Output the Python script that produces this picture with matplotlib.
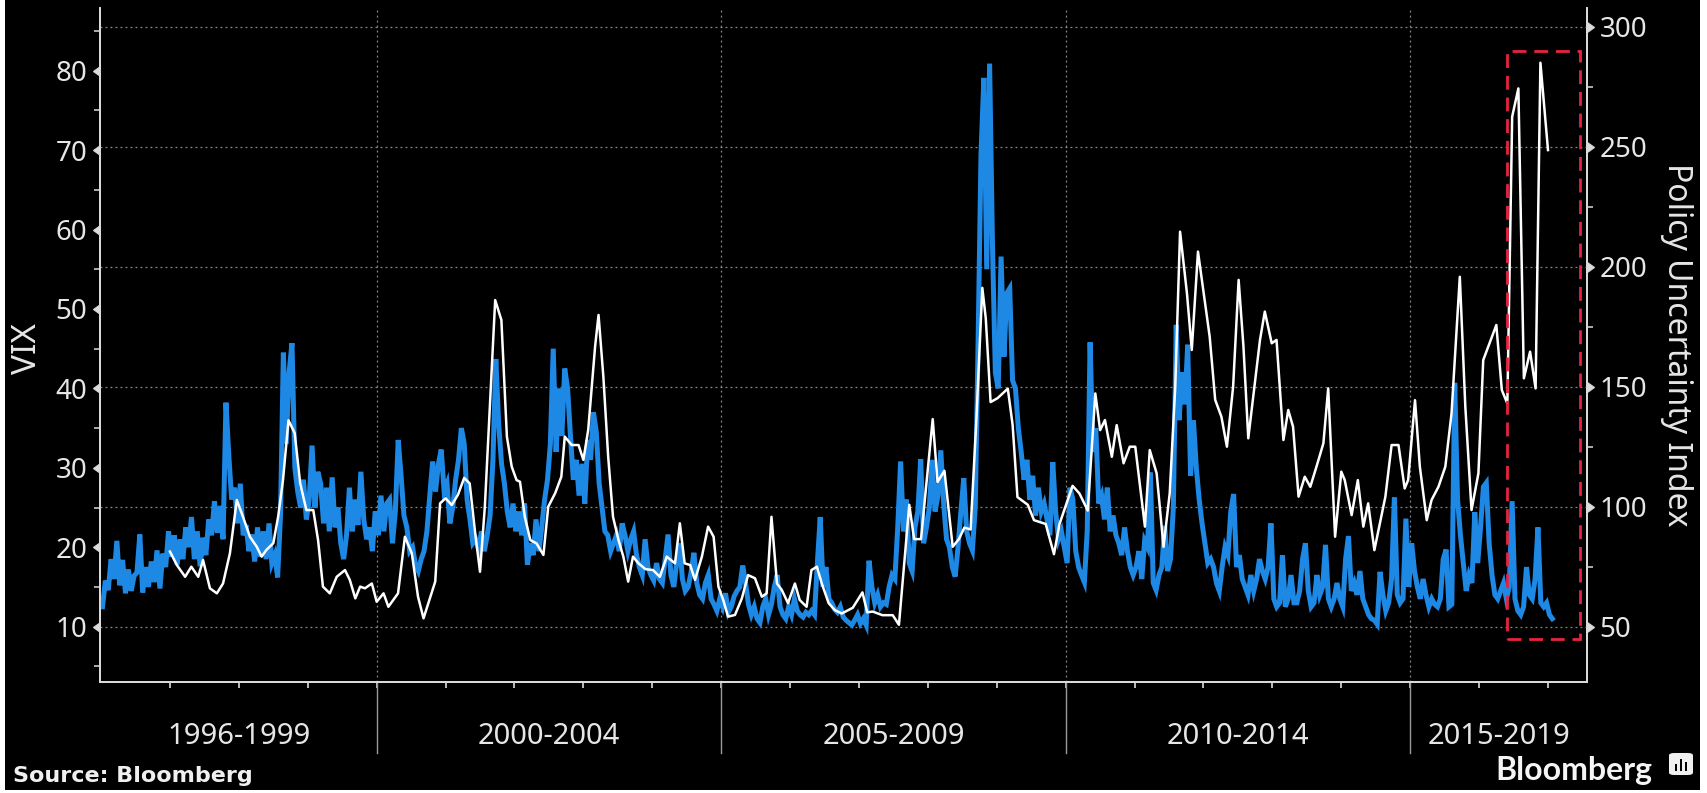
import numpy as np
import matplotlib.pyplot as plt
from matplotlib.patches import Rectangle, FancyBboxPatch

# VIX, two readings per month (first half, second half), by period
vix_1996_1999 = [
    12.5, 15.8, 14.6, 18.5, 16.0, 20.8, 15.2, 18.4, 14.2, 17.2, 14.5, 16.4,
    16.8, 21.6, 14.3, 17.5, 15.0, 18.2, 15.6, 19.6, 14.8, 19.2, 17.5, 22.0,
    18.8, 21.5, 17.8, 21.0, 18.5, 22.5, 20.0, 23.8, 18.5, 22.0, 17.6, 21.2,
    19.0, 23.5, 21.5, 25.8, 21.8, 25.2, 21.0, 38.2, 31.5, 26.0, 27.5, 23.0,
    28.0, 21.5, 22.8, 19.5, 21.6, 18.2, 22.5, 18.8, 22.0, 18.5, 23.0, 18.0,
    19.0, 16.2, 24.0, 44.5, 33.0, 42.0, 45.7, 30.0, 27.0, 25.0, 28.5, 23.5,
    26.0, 32.8, 25.0, 29.5, 28.0, 23.0, 27.5, 22.0, 28.8, 22.5, 25.0, 20.5,
    18.5, 21.5, 27.5, 22.0, 26.0, 22.8, 29.5, 23.5, 21.0, 22.5, 19.5, 24.5,
]
vix_2000_2004 = [
    21.5, 26.5, 22.0, 25.5, 26.0, 20.5, 24.5, 33.5, 29.0, 24.0, 22.5, 19.5,
    20.0, 17.8, 17.0, 18.5, 19.5, 22.0, 26.5, 30.8, 27.0, 30.5, 32.3, 27.0,
    28.0, 23.0, 25.0, 28.5, 31.0, 35.0, 33.0, 26.0, 23.5, 20.5, 21.0, 19.8,
    22.0, 19.5, 21.5, 24.0, 31.0, 43.7, 35.5, 30.5, 28.0, 24.5, 22.5, 25.5,
    22.0, 24.5, 21.5, 25.5, 17.8, 20.5, 19.0, 23.5, 19.5, 22.5, 26.0, 28.5,
    33.0, 45.0, 32.0, 40.0, 34.0, 42.5, 40.0, 34.0, 28.5, 31.0, 26.5, 30.5,
    25.5, 33.5, 31.0, 37.0, 34.5, 28.0, 25.0, 22.0, 21.5, 19.5, 20.5, 21.5,
    19.5, 23.0, 21.5, 19.5, 21.0, 22.0, 19.0, 17.5, 16.5, 21.0, 17.5, 16.5,
    15.8, 18.0, 16.0, 15.5, 18.5, 21.6, 16.5, 15.0, 18.0, 20.5, 16.0, 14.5,
    15.0, 16.8, 19.3, 15.5, 14.0, 13.5, 15.5, 16.5, 13.5, 12.8, 12.0, 13.5,
]
vix_2005_2009 = [
    12.5, 14.2, 11.8, 12.5, 13.8, 14.5, 15.0, 17.7, 15.5, 12.8, 11.5, 12.5,
    11.0, 10.5, 12.5, 13.5, 11.5, 12.8, 15.0, 16.5, 12.5, 11.5, 11.0, 12.5,
    11.5, 13.5, 12.0, 11.5, 11.2, 11.8, 11.5, 12.0, 11.5, 18.0, 23.8, 15.0,
    17.5, 13.5, 13.0, 12.2, 11.8, 12.5, 11.2, 10.8, 10.5, 10.2, 10.8, 11.5,
    10.4, 11.0, 10.2, 18.3, 15.0, 13.0, 14.0, 12.5, 13.0, 12.8, 15.0, 16.5,
    16.0, 22.5, 30.8, 22.0, 26.0, 18.0, 17.0, 22.5, 24.5, 31.1, 20.5, 22.5,
    25.0, 31.0, 24.5, 26.5, 32.2, 25.5, 21.0, 20.0, 17.5, 16.3, 20.0, 24.5,
    28.7, 22.0, 20.5, 19.6, 25.0, 46.0, 69.5, 79.1, 55.0, 80.9, 58.0, 42.0,
    40.0, 56.6, 44.0, 52.0, 52.6, 41.0, 40.0, 35.0, 32.0, 28.5, 31.0, 26.0,
    29.0, 24.0, 27.5, 24.5, 25.5, 23.5, 21.5, 30.7, 24.5, 21.0, 22.0, 20.0,
]
vix_2010_2014 = [
    18.0, 27.5, 26.0, 19.5, 17.5, 16.5, 15.6, 22.0, 45.8, 32.0, 35.0, 25.5,
    26.5, 23.5, 27.5, 22.0, 24.0, 21.5, 20.5, 19.0, 22.5, 19.5, 17.5, 16.5,
    17.5, 19.5, 16.0, 20.8, 20.0, 29.4, 15.5, 14.6, 16.5, 17.5, 22.7, 17.0,
    18.5, 25.0, 48.0, 36.0, 42.0, 38.0, 45.5, 29.0, 36.0, 30.0, 26.0, 23.0,
    20.5, 18.0, 18.5, 17.5, 15.5, 14.5, 17.5, 20.0, 19.0, 24.5, 26.7, 17.5,
    19.0, 16.0, 15.0, 14.0, 16.5, 14.5, 16.0, 18.5, 17.0, 16.0, 17.5, 23.0,
    13.5, 12.5, 13.0, 19.0, 12.5, 13.5, 16.5, 13.0, 13.0, 14.5, 18.5, 20.5,
    14.5, 12.5, 13.0, 16.5, 14.0, 15.0, 20.3, 13.5, 12.5, 13.5, 15.5, 13.5,
    12.5, 18.5, 21.4, 14.5, 15.5, 14.0, 17.0, 13.5, 12.5, 11.5, 11.0, 10.8,
    10.3, 16.9, 14.0, 12.0, 13.0, 16.0, 26.3, 14.0, 13.0, 13.5, 23.6, 15.0,
]
vix_2015_2017 = [
    20.5, 17.0, 15.0, 13.5, 16.0, 14.0, 12.5, 13.5, 12.8, 12.5, 13.5, 18.5,
    19.7, 12.5, 12.8, 40.7, 26.0, 21.5, 18.0, 14.5, 16.5, 15.5, 24.4, 18.0,
    22.5, 27.6, 28.1, 20.5, 16.5, 14.0, 13.5, 14.5, 15.5, 13.5, 15.0, 25.8,
    13.5, 12.0, 11.5, 12.5, 17.5, 14.0, 13.5, 16.0, 22.5, 13.0, 12.5, 13.0,
    11.5, 11.0,
]

# Economic Policy Uncertainty index (decimal year, value)
epu_dates = [
    1997.00, 1997.10, 1997.22, 1997.31, 1997.41, 1997.48, 1997.58, 1997.68, 1997.77, 1997.87,
    1997.97, 1998.06, 1998.16, 1998.26, 1998.33, 1998.40, 1998.50, 1998.57, 1998.64, 1998.72,
    1998.81, 1998.89, 1998.98, 1999.08, 1999.15, 1999.22, 1999.32, 1999.42, 1999.54, 1999.61,
    1999.69, 1999.76, 1999.83, 1999.93, 2000.00, 2000.10, 2000.17, 2000.31, 2000.41, 2000.51,
    2000.60, 2000.68, 2000.85, 2000.92, 2001.00, 2001.09, 2001.18, 2001.27, 2001.35, 2001.43,
    2001.50, 2001.57, 2001.72, 2001.81, 2001.89, 2001.96, 2002.03, 2002.08, 2002.15, 2002.23,
    2002.32, 2002.42, 2002.49, 2002.59, 2002.68, 2002.73, 2002.83, 2002.93, 2003.00, 2003.07,
    2003.17, 2003.22, 2003.29, 2003.36, 2003.43, 2003.51, 2003.58, 2003.65, 2003.72, 2003.80,
    2003.90, 2004.01, 2004.11, 2004.21, 2004.33, 2004.40, 2004.47, 2004.55, 2004.62, 2004.72,
    2004.81, 2004.89, 2004.96, 2005.03, 2005.10, 2005.20, 2005.30, 2005.39, 2005.49, 2005.59,
    2005.66, 2005.73, 2005.81, 2005.88, 2005.97, 2006.07, 2006.14, 2006.24, 2006.31, 2006.39,
    2006.46, 2006.56, 2006.65, 2006.75, 2006.91, 2007.05, 2007.12, 2007.20, 2007.34, 2007.49,
    2007.58, 2007.73, 2007.80, 2007.90, 2008.07, 2008.14, 2008.24, 2008.36, 2008.45, 2008.53,
    2008.62, 2008.70, 2008.79, 2008.84, 2008.91, 2009.01, 2009.16, 2009.23, 2009.30, 2009.45,
    2009.54, 2009.71, 2009.83, 2009.91, 2010.10, 2010.20, 2010.32, 2010.43, 2010.50, 2010.57,
    2010.67, 2010.74, 2010.84, 2010.93, 2011.01, 2011.15, 2011.22, 2011.32, 2011.42, 2011.51,
    2011.59, 2011.66, 2011.76, 2011.83, 2011.92, 2012.09, 2012.17, 2012.26, 2012.34, 2012.43,
    2012.51, 2012.58, 2012.65, 2012.75, 2012.82, 2012.89, 2012.99, 2013.06, 2013.16, 2013.23,
    2013.30, 2013.38, 2013.47, 2013.55, 2013.64, 2013.74, 2013.81, 2013.91, 2014.00, 2014.05,
    2014.15, 2014.24, 2014.32, 2014.39, 2014.48, 2014.64, 2014.73, 2014.83, 2014.92, 2014.97,
    2015.07, 2015.14, 2015.24, 2015.31, 2015.41, 2015.51, 2015.60, 2015.72, 2015.80, 2015.89,
    2015.99, 2016.06, 2016.25, 2016.33, 2016.41, 2016.48, 2016.57, 2016.65, 2016.74, 2016.82,
    2016.89, 2017.00,
]
epu_values = [
    81.3, 75.7, 70.8, 75.0, 70.8, 77.8, 66.0, 63.9, 68.0, 80.6,
    102.8, 95.8, 87.5, 83.3, 79.2, 82.0, 84.8, 95.8, 111.0, 136.0,
    130.7, 109.7, 98.6, 98.6, 86.0, 66.7, 63.9, 70.8, 73.6, 69.5,
    61.8, 66.7, 66.0, 68.0, 60.4, 63.9, 58.3, 63.9, 87.5, 80.6,
    62.5, 53.5, 68.8, 101.4, 103.5, 100.7, 105.0, 112.0, 109.7, 88.9,
    72.9, 100.0, 186.1, 177.8, 129.2, 116.7, 111.1, 110.4, 95.8, 86.1,
    84.7, 79.9, 100.0, 105.6, 112.5, 129.2, 125.7, 125.7, 119.5, 132.0,
    166.7, 179.9, 154.2, 120.8, 95.8, 86.1, 79.2, 68.8, 79.2, 76.4,
    74.0, 73.6, 70.8, 79.2, 76.4, 93.1, 76.4, 75.7, 69.5, 79.2,
    91.7, 87.5, 66.7, 61.1, 54.2, 54.9, 61.8, 71.5, 70.2, 62.5,
    63.9, 95.8, 68.0, 65.3, 59.8, 68.0, 61.1, 58.3, 73.6, 75.0,
    68.0, 59.8, 56.9, 55.5, 57.9, 64.3, 56.0, 56.3, 54.8, 54.8,
    50.8, 100.8, 86.5, 86.5, 136.5, 110.3, 115.0, 83.3, 86.5, 91.3,
    90.5, 134.0, 191.2, 178.5, 143.6, 145.2, 149.2, 134.0, 104.0, 100.8,
    94.4, 92.8, 80.2, 92.8, 108.7, 105.5, 98.4, 147.2, 131.9, 136.1,
    120.8, 134.0, 118.1, 125.0, 125.0, 91.7, 123.6, 113.9, 83.3, 105.6,
    150.0, 214.6, 188.9, 165.3, 206.3, 170.8, 144.5, 137.5, 125.0, 150.0,
    194.5, 166.7, 128.5, 152.8, 169.5, 181.3, 168.1, 169.5, 127.8, 140.3,
    133.3, 104.2, 112.5, 108.3, 116.7, 126.4, 149.3, 87.5, 114.6, 111.1,
    96.5, 111.1, 91.7, 101.4, 81.9, 104.2, 125.7, 125.7, 107.6, 111.1,
    144.4, 116.7, 94.4, 102.8, 108.3, 116.7, 138.9, 195.8, 141.7, 98.6,
    113.9, 161.1, 175.7, 148.6, 143.0, 262.5, 274.3, 153.5, 164.6, 149.3,
    285.0, 248.6,
]

group_labels = ["1996-1999", "2000-2004", "2005-2009", "2010-2014", "2015-2019"]
group_starts = [1996, 2000, 2005, 2010, 2015]

vix_ticks = [10, 20, 30, 40, 50, 60, 70, 80]
vix_minor = [5, 15, 25, 35, 45, 55, 65, 75, 85]
epu_ticks = [50, 100, 150, 200, 250, 300]
epu_minor = [75, 125, 175, 225, 275]

# highlighted recent period (red dashed box)
highlight_x = (2016.40, 2017.465)
highlight_y = (44.8, 290.0)

vix = np.array(vix_1996_1999 + vix_2000_2004 + vix_2005_2009 + vix_2010_2014 + vix_2015_2017)
vix_t = 1996 + (np.arange(len(vix)) + 0.5) / 24.0

BLUE = "#1e88e5"
TXT = "#e6e6e6"
GRID = "#8a8a8a"

fig = plt.figure(figsize=(17.07, 7.93), dpi=100, facecolor="white")
fig.patches.append(Rectangle((5 / 1707, 3 / 793), 1695 / 1707, 1, transform=fig.transFigure,
                             facecolor="black", edgecolor="none", zorder=-10))

ax = fig.add_axes([0.0586, 0.1404, 0.8711, 0.8495])
ax.set_facecolor("black")
ax2 = ax.twinx()

xmin, xmax = 1995.985, 2017.566
ax.set_xlim(xmin, xmax)
ax.set_ylim(3.07, 87.9)
ax2.set_ylim(27.1, 307.8)

# grid (drawn in ax2 so the series sit on top of it)
for g in epu_ticks:
    ax2.axhline(g, color=GRID, lw=0.9, ls=(0, (1.5, 2.5)), zorder=0.5)
for s in group_starts[1:]:
    ax2.axvline(s, color=GRID, lw=0.9, ls=(0, (1.5, 2.5)), zorder=0.5)

ax2.plot(vix_t, vix, color=BLUE, lw=3.6, solid_joinstyle="miter", transform=ax.transData, zorder=2)
ax2.plot(epu_dates, epu_values, color="white", lw=1.8, zorder=3)

ax2.add_patch(Rectangle((highlight_x[0], highlight_y[0]), highlight_x[1] - highlight_x[0],
                        highlight_y[1] - highlight_y[0], fill=False, edgecolor="#e8233f",
                        lw=2.0, ls=(0, (5, 2.8)), zorder=4, clip_on=False))

for a in (ax, ax2):
    a.spines["top"].set_visible(False)
    for side in ("left", "right", "bottom"):
        a.spines[side].set_color("#dcdcdc")
        a.spines[side].set_linewidth(1.3)

# x axis: yearly ticks, group labels and separators
ax.set_xticks(list(range(1997, 2018)))
ax.set_xticklabels([])
ax.tick_params(axis="x", length=4, width=1.2, color="#dcdcdc", direction="out")
ax2.tick_params(axis="x", length=0)
bounds = group_starts + [xmax]
for i, lab in enumerate(group_labels):
    mid = (max(bounds[i], xmin) + min(bounds[i + 1], xmax)) / 2
    ax.text(mid, -0.082, lab, transform=ax.get_xaxis_transform(), ha="center", va="center",
            fontsize=21, color=TXT, family="Noto Sans")
for s in group_starts[1:]:
    ax.plot([s, s], [0, -0.106], transform=ax.get_xaxis_transform(), color="#9a9a9a",
            lw=1.0, clip_on=False)

# left axis (VIX)
ax.set_yticks(vix_ticks)
ax.set_yticks(vix_minor, minor=True)
ax.set_yticklabels([str(v) for v in vix_ticks], fontsize=20, color=TXT, family="Noto Sans")
ax.tick_params(axis="y", which="major", length=6, pad=3)
ax.tick_params(axis="y", which="minor", length=4, width=1.1, color="#dcdcdc")
for tk in ax.yaxis.get_major_ticks():
    tk.tick1line.set_marker(8)
    tk.tick1line.set_markersize(7)
    tk.tick1line.set_markerfacecolor("#dcdcdc")
    tk.tick1line.set_markeredgecolor("#dcdcdc")
ax.set_ylabel("VIX", fontsize=24, color=TXT, family="Noto Sans", ha="center", va="center")
ax.yaxis.set_label_coords(-0.049, 0.495)

# right axis (policy uncertainty)
ax2.set_yticks(epu_ticks)
ax2.set_yticks(epu_minor, minor=True)
ax2.set_yticklabels([str(v) for v in epu_ticks], fontsize=20, color=TXT, family="Noto Sans")
ax2.tick_params(axis="y", which="major", length=6, pad=3)
ax2.tick_params(axis="y", which="minor", length=4, width=1.1, color="#dcdcdc")
for tk in ax2.yaxis.get_major_ticks():
    tk.tick2line.set_marker(9)
    tk.tick2line.set_markersize(7)
    tk.tick2line.set_markerfacecolor("#dcdcdc")
    tk.tick2line.set_markeredgecolor("#dcdcdc")
ax2.set_ylabel("Policy Uncertainty Index", fontsize=23, color=TXT, family="Noto Sans",
               rotation=270, ha="center", va="center")
ax2.yaxis.set_label_coords(1.060, 0.5)

# footer
fig.text(0.0076, 0.0214, "Source: Bloomberg", fontsize=16, fontweight="bold", color="#f0f0f0",
         ha="left", va="center", family="DejaVu Sans")
fig.text(0.968, 0.029, "Bloomberg", fontsize=23, fontweight="bold", color="#f5f5f5",
         ha="right", va="center", family=["Lato", "DejaVu Sans"])
fig.patches.append(FancyBboxPatch((1669 / 1707, 18 / 793), 24 / 1707, 22 / 793,
                                  boxstyle="round,pad=0.0,rounding_size=0.003",
                                  transform=fig.transFigure, facecolor="#f0f0f0", edgecolor="none"))
for bx, bh in [(1675, 7), (1680, 12), (1685, 9)]:
    fig.patches.append(Rectangle((bx / 1707, 22 / 793), 2.2 / 1707, bh / 793,
                                 transform=fig.transFigure, facecolor="black", edgecolor="none"))

fig.savefig("out.png", dpi=100, facecolor=fig.get_facecolor())
